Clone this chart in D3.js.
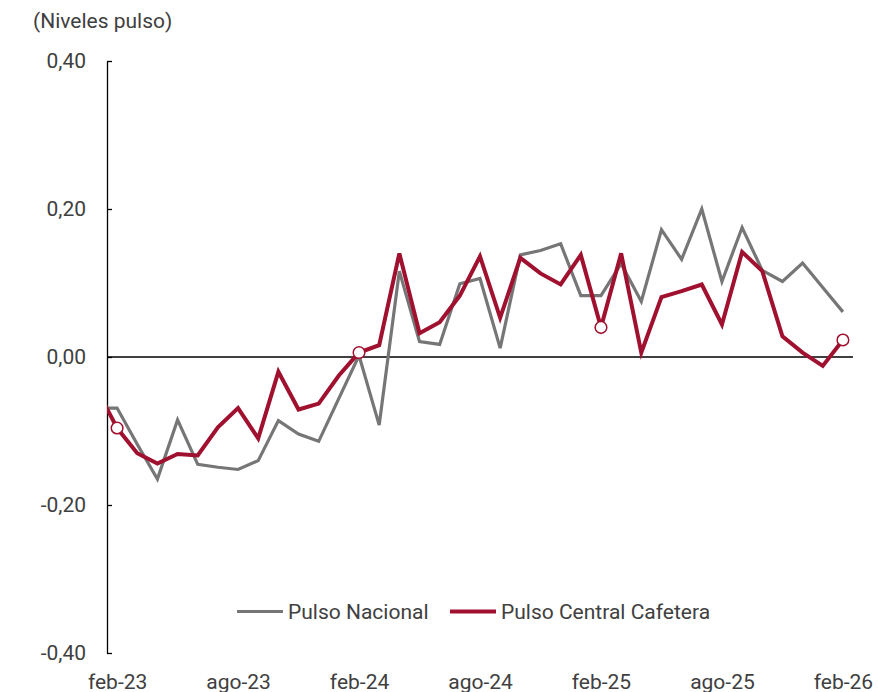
<!DOCTYPE html>
<html><head><meta charset="utf-8">
<script src="https://cdn.jsdelivr.net/npm/d3@7"></script>
<style>
html,body{margin:0;padding:0;background:#fff;}
svg{display:block;font-family:Roboto,"Noto Sans",sans-serif;}
</style></head>
<body>
<svg id="chart" width="878" height="692"></svg>
<script>
// ---- data ----
const months = ["ene-23","feb-23","mar-23","abr-23","may-23","jun-23","jul-23","ago-23","sep-23","oct-23","nov-23","dic-23",
  "ene-24","feb-24","mar-24","abr-24","may-24","jun-24","jul-24","ago-24","sep-24","oct-24","nov-24","dic-24",
  "ene-25","feb-25","mar-25","abr-25","may-25","jun-25","jul-25","ago-25","sep-25","oct-25","nov-25","dic-25",
  "ene-26","feb-26"];
const pulsoNacional = [-0.069,-0.069,-0.118,-0.165,-0.085,-0.145,-0.149,-0.152,-0.140,-0.086,-0.104,-0.114,-0.056,
  0.002,-0.092,0.116,0.021,0.017,0.099,0.106,0.012,0.138,0.144,0.153,0.083,
  0.083,0.126,0.075,0.172,0.132,0.200,0.102,0.175,0.117,0.102,0.127,0.094,0.061];
const pulsoCafetera = [-0.044,-0.096,-0.130,-0.144,-0.131,-0.133,-0.095,-0.069,-0.110,-0.020,-0.071,-0.063,-0.025,
  0.006,0.016,0.140,0.032,0.047,0.083,0.136,0.053,0.134,0.113,0.098,0.138,
  0.040,0.140,0.006,0.081,0.089,0.098,0.044,0.142,0.116,0.028,0.006,-0.012,0.023];
const markedMonths = ["feb-23","feb-24","feb-25","feb-26"];
const xTickLabels = ["feb-23","ago-23","feb-24","ago-24","feb-25","ago-25","feb-26"];
const yTicks = [-0.40,-0.20,0.00,0.20,0.40];
const seriesNames = ["Pulso Nacional","Pulso Central Cafetera"];
const yTitle = "(Niveles pulso)";

// ---- layout ----
const svg = d3.select("#chart");
const plot = {left:107, right:853, top:61, bottom:653};
const grayC = "#767676", redC = "#A0102F", textC = "#404040";
const fs = "21px";

const x = d3.scaleLinear().domain([0.5, months.length - 0.5]).range([plot.left, plot.right]);
const y = d3.scaleLinear().domain([-0.4, 0.4]).range([plot.bottom, plot.top]);

const loc = d3.formatLocale({decimal:",", thousands:".", grouping:[3], currency:["$",""], minus:"-"});
const fmt = loc.format(".2f");

// clip
svg.append("defs").append("clipPath").attr("id","clip")
  .append("rect").attr("x",plot.left).attr("y",0).attr("width",plot.right-plot.left).attr("height",692);

// y axis
const yAxis = d3.axisLeft(y).tickValues(yTicks).tickFormat(fmt).tickSizeInner(-5).tickSizeOuter(0).tickPadding(21);
const gy = svg.append("g").attr("transform",`translate(${plot.left},0)`).call(yAxis);
gy.select(".domain").attr("stroke","#000").attr("stroke-width",1.3);
gy.selectAll(".tick line").attr("stroke","#000").attr("stroke-width",1.3);
gy.selectAll(".tick text").attr("fill",textC).style("font-size",fs).style("font-family","Roboto");

// zero line
svg.append("line").attr("x1",plot.left).attr("x2",plot.right).attr("y1",y(0)).attr("y2",y(0))
  .attr("stroke","#000").attr("stroke-width",1.3);

// x axis labels
const xAxis = d3.axisBottom(x)
  .tickValues(xTickLabels.map(l => months.indexOf(l)))
  .tickFormat(i => months[i]).tickSize(0).tickPadding(0);
const gx = svg.append("g").attr("transform",`translate(0,${plot.bottom})`).call(xAxis);
gx.select(".domain").remove();
gx.selectAll(".tick text").attr("fill",textC).style("font-size",fs).style("font-family","Roboto")
  .attr("y",36).attr("dy",null);

// title
svg.append("text").attr("x",33).attr("y",28).attr("fill",textC)
  .style("font-size",fs).text(yTitle);

// lines
const line = d3.line().x((d,i)=>x(i)).y(d=>y(d));
const gl = svg.append("g").attr("clip-path","url(#clip)");
gl.append("path").datum(pulsoNacional).attr("d",line).attr("fill","none")
  .attr("stroke",grayC).attr("stroke-width",3.2).attr("stroke-linejoin","miter");
gl.append("path").datum(pulsoCafetera).attr("d",line).attr("fill","none")
  .attr("stroke",redC).attr("stroke-width",4).attr("stroke-linejoin","miter");

// markers
svg.append("g").selectAll("circle").data(markedMonths).join("circle")
  .attr("cx",m=>x(months.indexOf(m))).attr("cy",m=>y(pulsoCafetera[months.indexOf(m)]))
  .attr("r",5.8).attr("fill","#fff").attr("stroke",redC).attr("stroke-width",1.5);

// legend
const leg = svg.append("g");
const legItems = [{name:seriesNames[0], c:grayC, w:3.2, x:237},{name:seriesNames[1], c:redC, w:4, x:450}];
legItems.forEach(it=>{
  leg.append("line").attr("x1",it.x).attr("x2",it.x+46).attr("y1",611.5).attr("y2",611.5)
    .attr("stroke",it.c).attr("stroke-width",it.w);
  leg.append("text").attr("x",it.x+51).attr("y",619).attr("fill",textC)
    .style("font-size",fs).text(it.name);
});
</script>
</body></html>
